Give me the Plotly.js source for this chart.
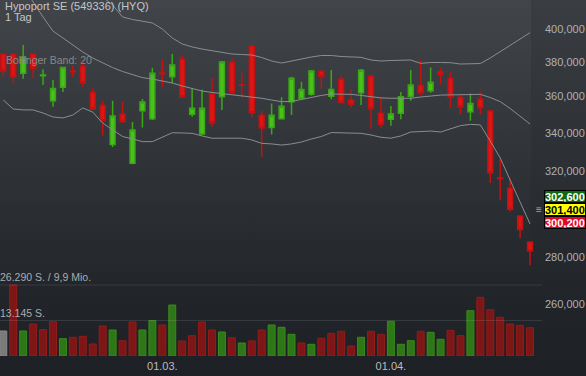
<!DOCTYPE html>
<html><head><meta charset="utf-8">
<script src="https://cdn.plot.ly/plotly-3.0.1.min.js"></script>
<style>
html,body{margin:0;padding:0;background:#2a2e32;}
#wrap{position:relative;width:586px;height:376px;overflow:hidden;
 background:linear-gradient(to bottom,#3a3e42 0%,#303438 30%,#272b2f 60%,#212428 80%,#1d2024 100%);}
#glow{position:absolute;left:0;top:0;width:531px;height:290px;
 background:linear-gradient(to bottom,rgba(255,255,255,0.04),rgba(255,255,255,0.0));}
#chart{position:absolute;left:0;top:0;width:586px;height:376px;}
</style></head><body>
<div id="wrap"><div id="glow"></div><div id="chart"></div></div>
<script>
// ---- data ----
const dates = ["07.02.22","08.02.22","09.02.22","10.02.22","11.02.22","14.02.22","15.02.22","16.02.22","17.02.22","18.02.22",
 "21.02.22","22.02.22","23.02.22","24.02.22","25.02.22","28.02.22","01.03.22","02.03.22","03.03.22","04.03.22",
 "07.03.22","08.03.22","09.03.22","10.03.22","11.03.22","14.03.22","15.03.22","16.03.22","17.03.22","18.03.22",
 "21.03.22","22.03.22","23.03.22","24.03.22","25.03.22","28.03.22","29.03.22","30.03.22","31.03.22","01.04.22",
 "04.04.22","05.04.22","06.04.22","07.04.22","08.04.22","11.04.22","12.04.22","13.04.22","14.04.22","19.04.22",
 "20.04.22","21.04.22","22.04.22","25.04.22"];
const openP  = [384.8,384.8,373.3,384.8,371.9,357.6,365.2,374.7,377.6,362.3,355.0,333.9,350.3,324.2,352.1,347.6,373.5,371.3,381.6,350.1,
 339.4,361.7,359.8,379.8,366.6,389.7,349.6,342.9,347.6,357.0,359.0,361.2,374.5,360.2,369.8,358.0,362.1,371.7,350.7,347.4,
 350.7,360.2,366.3,363.3,374.3,370.4,359.4,351.5,358.4,351.9,316.8,311.8,298.4,286.5];
const highP  = [385.2,385.2,390.3,385.2,375.7,369.4,377.2,378.2,380.2,364.6,357.6,357.6,356.9,345.9,358.6,376.6,381.6,384.8,384.2,364.6,
 364.0,370.8,380.6,382.2,373.8,390.3,351.9,356.1,359.6,371.3,368.4,375.3,375.3,375.3,371.9,364.0,375.9,372.3,359.8,354.7,
 362.6,375.3,381.2,376.8,376.8,373.9,360.8,361.7,362.6,352.5,326.2,316.6,298.9,286.8];
const lowP   = [371.3,367.9,370.1,370.4,366.5,354.3,362.6,371.0,365.5,352.5,338.7,332.6,345.2,323.7,342.9,347.0,365.5,367.5,359.3,348.8,
 338.9,343.3,352.5,361.7,359.3,348.5,327.5,339.2,347.4,349.7,358.6,360.4,364.6,358.4,356.1,353.9,355.2,342.2,342.9,343.9,
 347.4,357.6,360.8,362.1,366.9,353.7,350.1,346.6,350.1,314.3,306.1,300.5,288.3,276.3];
const closeP = [374.5,371.0,382.8,376.3,372.3,364.6,376.8,374.3,367.9,352.9,346.6,349.2,346.1,341.6,356.9,373.3,373.1,378.2,359.8,353.4,
 353.4,345.5,380.0,362.1,366.4,351.0,342.7,349.6,354.5,370.4,364.0,374.7,371.6,364.0,356.8,355.6,375.1,353.2,344.7,350.3,
 359.8,366.5,362.3,368.1,372.7,359.8,354.3,356.1,353.7,319.4,316.5,301.7,292.2,282.7];
const bbUpper = [538.2,521.6,505.5,489.9,474.8,461.6,450.1,440.4,432.2,425.4,420.8,415.5,407.8,406.2,405.2,404.0,400.2,394.6,390.9,389.1,
 387.8,386.9,386.0,384.8,384.5,384.2,382.7,380.6,379.4,380.6,382.1,383.0,383.9,383.9,383.3,383.0,382.8,381.2,380.6,380.9,
 381.0,381.2,379.2,379.7,379.7,379.6,378.8,378.8,379.1,382.4,386.2,390.3,394.0,397.9];
const bbMiddle = [449.4,438.3,427.4,417.5,407.8,398.9,394.6,390.3,386.0,382.4,379.4,376.7,374.4,372.6,370.8,370.0,369.0,367.7,366.0,364.5,
 363.1,362.3,361.7,361.1,360.6,359.7,359.0,358.0,357.1,357.2,358.3,359.7,360.6,361.4,361.4,361.2,360.6,359.9,359.2,359.0,
 359.0,359.0,359.7,360.4,360.8,360.9,361.0,361.1,361.2,359.4,357.1,353.3,349.2,344.8];
const bbLower = [358.0,353.0,352.5,352.5,350.8,348.6,348.1,349.7,353.6,351.3,345.3,341.6,338.1,336.8,335.4,335.4,337.8,340.1,340.0,339.8,
 338.4,337.2,337.2,337.2,337.2,336.3,334.5,334.2,333.6,334.2,335.2,336.8,338.1,340.2,340.2,340.0,339.8,338.9,337.7,337.2,
 338.4,340.5,340.9,341.0,340.5,342.1,343.9,344.6,344.3,335.7,326.9,315.8,305.1,294.8];
const volume = [9257,26290,9257,11850,9740,12700,6406,6925,7295,4444,11109,9628,5666,12590,9628,13072,11479,18885,5555,7517,
 12590,9628,8887,6777,4814,5555,9628,11479,10628,8036,4814,4333,6554,8406,9146,3703,6925,9146,8036,12850,
 4333,5666,9146,8776,6184,9517,7517,16775,21737,17145,14331,11850,11368,10479];
const volDir = ["n","d","u","d","d","d","u","d","d","d","d","u","d","d","u","u","d","u","d","d",
 "d","d","u","d","u","d","d","u","u","u","d","u","d","d","d","d","u","d","d","u",
 "u","u","d","u","u","d","d","u","d","d","d","d","d","d"];
const priceTicks = [260,280,320,340,360,380,400];
const xTickDates = ["01.03.22","01.04.22"];
const xTickLabels = ["01.03.","01.04."];
const quoteBoxes = [302.6, 301.4, 300.2];   // upper, last, lower
const volMaxLabel = 26290, volHalfLabel = 13145, volTurnover = "9,9 Mio.";
const titleText = "Hypoport SE (549336) (HYQ)", periodText = "1 Tag", bbText = "Bollinger Band: 20";

// ---- layout constants ----
const PW = 535, PH = 356;
const FONT = "Liberation Sans, Arial, sans-serif";
const fmt3 = v => v.toFixed(3).replace('.', ',');
const fmtThou = v => String(v).replace(/\B(?=(\d{3})+(?!\d))/g, '.');

const volColors = volDir.map(d => d === 'u' ? '#2d7716' : d === 'd' ? '#7e1616' : '#7a7a7a');
const volLines  = volDir.map(d => d === 'u' ? '#3a8a1e' : d === 'd' ? '#921c1c' : '#8a8a8a');

const traces = [
 {type:'bar', x:dates, y:volume, yaxis:'y2', width:0.7,
  marker:{color:volColors, line:{color:volLines, width:1}}, hoverinfo:'skip'},
 {type:'scatter', mode:'lines', x:dates, y:bbUpper, line:{color:'#8a8d90', width:1}, hoverinfo:'skip'},
 {type:'scatter', mode:'lines', x:dates, y:bbMiddle, line:{color:'#8a8d90', width:1}, hoverinfo:'skip'},
 {type:'scatter', mode:'lines', x:dates, y:bbLower, line:{color:'#8a8d90', width:1}, hoverinfo:'skip'},
 {type:'candlestick', x:dates, open:openP, high:highP, low:lowP, close:closeP,
  increasing:{line:{color:'#3aa816', width:1.5}, fillcolor:'#48c21a'},
  decreasing:{line:{color:'#c41111', width:1.5}, fillcolor:'#dc1515'},
  whiskerwidth:0, hoverinfo:'skip'}
];

const yTop = Math.log10(400) + 29.3/1468.4;
const yBot = Math.log10(400) - (PH - 29.3)/1468.4;

const ann = [];
const txt = (text, xpx, ypx, size, color, extra) => Object.assign({
  text, xref:'paper', yref:'paper', x:xpx/PW, y:1 - ypx/PH, xanchor:'left', yanchor:'middle',
  showarrow:false, font:{family:FONT, size, color}}, extra || {});
ann.push(txt(titleText, 3, 6.5, 11, '#c3c6c9'));
ann.push(txt(periodText, 3, 16.5, 11, '#c3c6c9'));
ann.push(txt(bbText, 4, 60, 10.5, '#85898c'));
ann.push({text: fmtThou(volMaxLabel) + ' S. / ' + volTurnover, xref:'paper', yref:'y2', x:0, y:volMaxLabel,
  xanchor:'left', yanchor:'bottom', xshift:-2, showarrow:false, font:{family:FONT, size:10.5, color:'#a9adb0'}});
ann.push({text: fmtThou(volHalfLabel) + ' S.', xref:'paper', yref:'y2', x:0, y:volHalfLabel,
  xanchor:'left', yanchor:'bottom', xshift:-2, showarrow:false, font:{family:FONT, size:10.5, color:'#a9adb0'}});
const boxStyle = [
  {bg:'#0b6a12', fc:'#ffffff', shift:13},
  {bg:'#ffff00', fc:'#000000', shift:0},
  {bg:'#e0062a', fc:'#ffffff', shift:-13}];
quoteBoxes.forEach((v, i) => {
  ann.push({text: fmt3(v), xref:'paper', yref:'y', x:544/PW, y:Math.log10(quoteBoxes[1]),
    xanchor:'left', yanchor:'middle', yshift:boxStyle[i].shift, showarrow:false,
    width:40, height:11, align:'left', bgcolor:boxStyle[i].bg, bordercolor:'#000000', borderwidth:1, borderpad:0,
    font:{family:FONT, size:11, color:boxStyle[i].fc, weight:'bold'}});
});
ann.push({text:'≡', xref:'paper', yref:'y', x:544/PW, y:Math.log10(quoteBoxes[1]), xanchor:'right', yanchor:'middle',
  showarrow:false, font:{family:FONT, size:10, color:'#a0a4a8'}});

const layout = {
  width:586, height:376, margin:{l:0, r:586-PW, t:0, b:376-PH},
  paper_bgcolor:'rgba(0,0,0,0)', plot_bgcolor:'rgba(0,0,0,0)',
  showlegend:false, font:{family:FONT},
  xaxis:{type:'category', range:[-0.332, 53.5], tickvals:xTickDates, ticktext:xTickLabels,
    showgrid:false, zeroline:false, showline:false, ticks:'', ticklabelstandoff:2,
    tickfont:{family:FONT, size:11, color:'#bcbcbc'}, rangeslider:{visible:false}, fixedrange:true},
  yaxis:{type:'log', range:[yBot, yTop], side:'right', tickvals:priceTicks, ticktext:priceTicks.map(fmt3),
    showgrid:false, zeroline:false, showline:false, ticks:'', ticklabelstandoff:9, automargin:false,
    tickfont:{family:FONT, size:11, color:'#aeb1b4'}, fixedrange:true},
  yaxis2:{overlaying:'y', range:[0, volMaxLabel*PH/71], visible:false, fixedrange:true},
  shapes:[
    {type:'line', xref:'paper', yref:'y2', x0:0, x1:542/PW, y0:volMaxLabel, y1:volMaxLabel, layer:'above',
     line:{color:'rgba(255,255,255,0.1)', width:1}},
    {type:'line', xref:'paper', yref:'y2', x0:0, x1:542/PW, y0:volHalfLabel, y1:volHalfLabel, layer:'above',
     line:{color:'rgba(255,255,255,0.1)', width:1}}
  ],
  annotations:ann
};
Plotly.newPlot('chart', traces, layout, {staticPlot:true, displayModeBar:false});
</script>
</body></html>
